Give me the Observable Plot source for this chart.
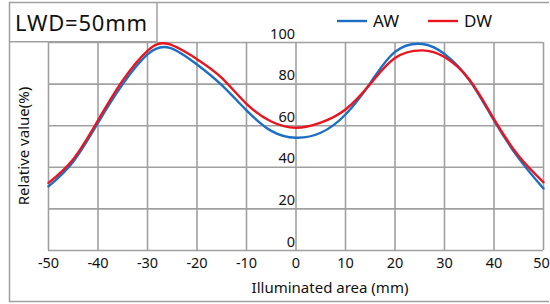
<!DOCTYPE html>
<html>
<head>
<meta charset="utf-8">
<script src="https://cdn.jsdelivr.net/npm/d3@7"></script>
<script src="https://cdn.jsdelivr.net/npm/@observablehq/plot@0.6"></script>
<style>
  html, body { margin: 0; padding: 0; background: #fff; }
  #chart { width: 550px; height: 304px; }
  svg { font-family: "Noto Sans", sans-serif; }
</style>
</head>
<body>
<div id="chart"></div>
<script>
const positions = [-50, -45, -40, -35, -30, -25.5, -20, -15, -10, -5, 0, 5, 10, 15, 20, 25.5, 30, 35, 40, 45, 50];
const awValues  = [30.8, 42.7, 61.4, 80, 94.3, 97.4, 89.4, 79.5, 67.4, 57.5, 54.2, 56.6, 65.4, 80.5, 95.5, 99.3, 94.5, 82, 62.5, 44.3, 29.8];
const dwPositions = [-50, -45, -40, -35, -30, -25.8, -20, -15, -10, -5, 0, 5, 10, 15, 20, 25.5, 30, 35, 40, 45, 50];
const dwValues  = [32.5, 43.9, 62.6, 81.8, 96, 99.3, 92, 83, 70.5, 62, 59, 61.5, 67.8, 80, 92.5, 96.2, 93, 82.2, 63.2, 45.4, 32.8];
const xTicks = [-50, -40, -30, -20, -10, 0, 10, 20, 30, 40, 50];
const yTicks = [0, 20, 40, 60, 80, 100];
const seriesNames = ["AW", "DW"];
const seriesColors = ["#1c6fc4", "#e8141f"];
const titleText = "LWD=50mm";
const xLabel = "Illuminated area (mm)";
const yLabel = "Relative value(%)";

const aw = positions.map((x, i) => ({x, y: awValues[i]}));
const dw = dwPositions.map((x, i) => ({x, y: dwValues[i]}));

const W = 550, H = 304;
const mL = 48, mR = 7, mT = 42, mB = 54;

const xTicksInner = xTicks.slice(0, -1);
const xTickLast = xTicks.slice(-1);

const chart = Plot.plot({
  width: W, height: H,
  marginLeft: mL, marginRight: mR, marginTop: mT, marginBottom: mB,
  style: {fontFamily: "'Noto Sans', sans-serif", background: "#fff", overflow: "visible"},
  x: {domain: [-50, 50], ticks: xTicks, axis: null},
  y: {domain: [0, 100], ticks: yTicks, axis: null},
  marks: [
    Plot.gridX(xTicks, {stroke: "#a0a0a0", strokeOpacity: 1, strokeWidth: 1.6}),
    Plot.gridY(yTicks, {stroke: "#a0a0a0", strokeOpacity: 1, strokeWidth: 1.6}),
    Plot.text(xTicksInner, {x: d => d, frameAnchor: "bottom", text: d => String(d), dy: 17, fontSize: 14.5, fill: "#111"}),
    Plot.text(xTickLast, {x: d => d, frameAnchor: "bottom", text: d => String(d), dy: 17, dx: -2, fontSize: 14.5, fill: "#111"}),
    Plot.text(yTicks, {x: 0, y: d => d, text: d => String(d), textAnchor: "end", dx: -1, dy: -8.5, fontSize: 14.5, fill: "#111"}),
    Plot.line(aw, {x: "x", y: "y", stroke: seriesColors[0], strokeWidth: 2.4, curve: "natural"}),
    Plot.line(dw, {x: "x", y: "y", stroke: seriesColors[1], strokeWidth: 2.4, curve: "natural"}),
    Plot.text([xLabel], {frameAnchor: "bottom", dx: 34, dy: 42, fontSize: 15, fill: "#111"})
  ]
});
document.getElementById("chart").appendChild(chart);

// decorations: outer frame, title box, legend, y label
const svg = d3.select(chart);
const frameColor = "#a0a0a0";
svg.append("path")
  .attr("d", `M549,2.5 H9.5 V301.5 H549`)
  .attr("fill", "none").attr("stroke", frameColor).attr("stroke-width", 1.5);
svg.append("path")
  .attr("d", `M157,2.5 V41.7 H9.5`)
  .attr("fill", "none").attr("stroke", frameColor).attr("stroke-width", 1.5);
svg.append("text")
  .attr("x", 15).attr("y", 23).attr("dy", "0.35em")
  .attr("text-anchor", "start")
  .attr("font-size", 22).attr("letter-spacing", 0.8).attr("fill", "#111")
  .text(titleText);
svg.append("text")
  .attr("transform", `translate(24,${(mT + (H - mB)) / 2}) rotate(-90)`)
  .attr("dy", "0.35em")
  .attr("text-anchor", "middle")
  .attr("font-size", 15).attr("fill", "#111")
  .text(yLabel);

const legendX = [337, 428];
seriesNames.forEach((name, i) => {
  svg.append("line")
    .attr("x1", legendX[i]).attr("x2", legendX[i] + 30)
    .attr("y1", 21).attr("y2", 21)
    .attr("stroke", seriesColors[i]).attr("stroke-width", 2.4);
  svg.append("text")
    .attr("x", legendX[i] + 36).attr("y", 21).attr("dy", "0.35em")
    .attr("text-anchor", "start")
    .attr("font-size", 17).attr("fill", "#111")
    .text(name);
});
</script>
</body>
</html>
